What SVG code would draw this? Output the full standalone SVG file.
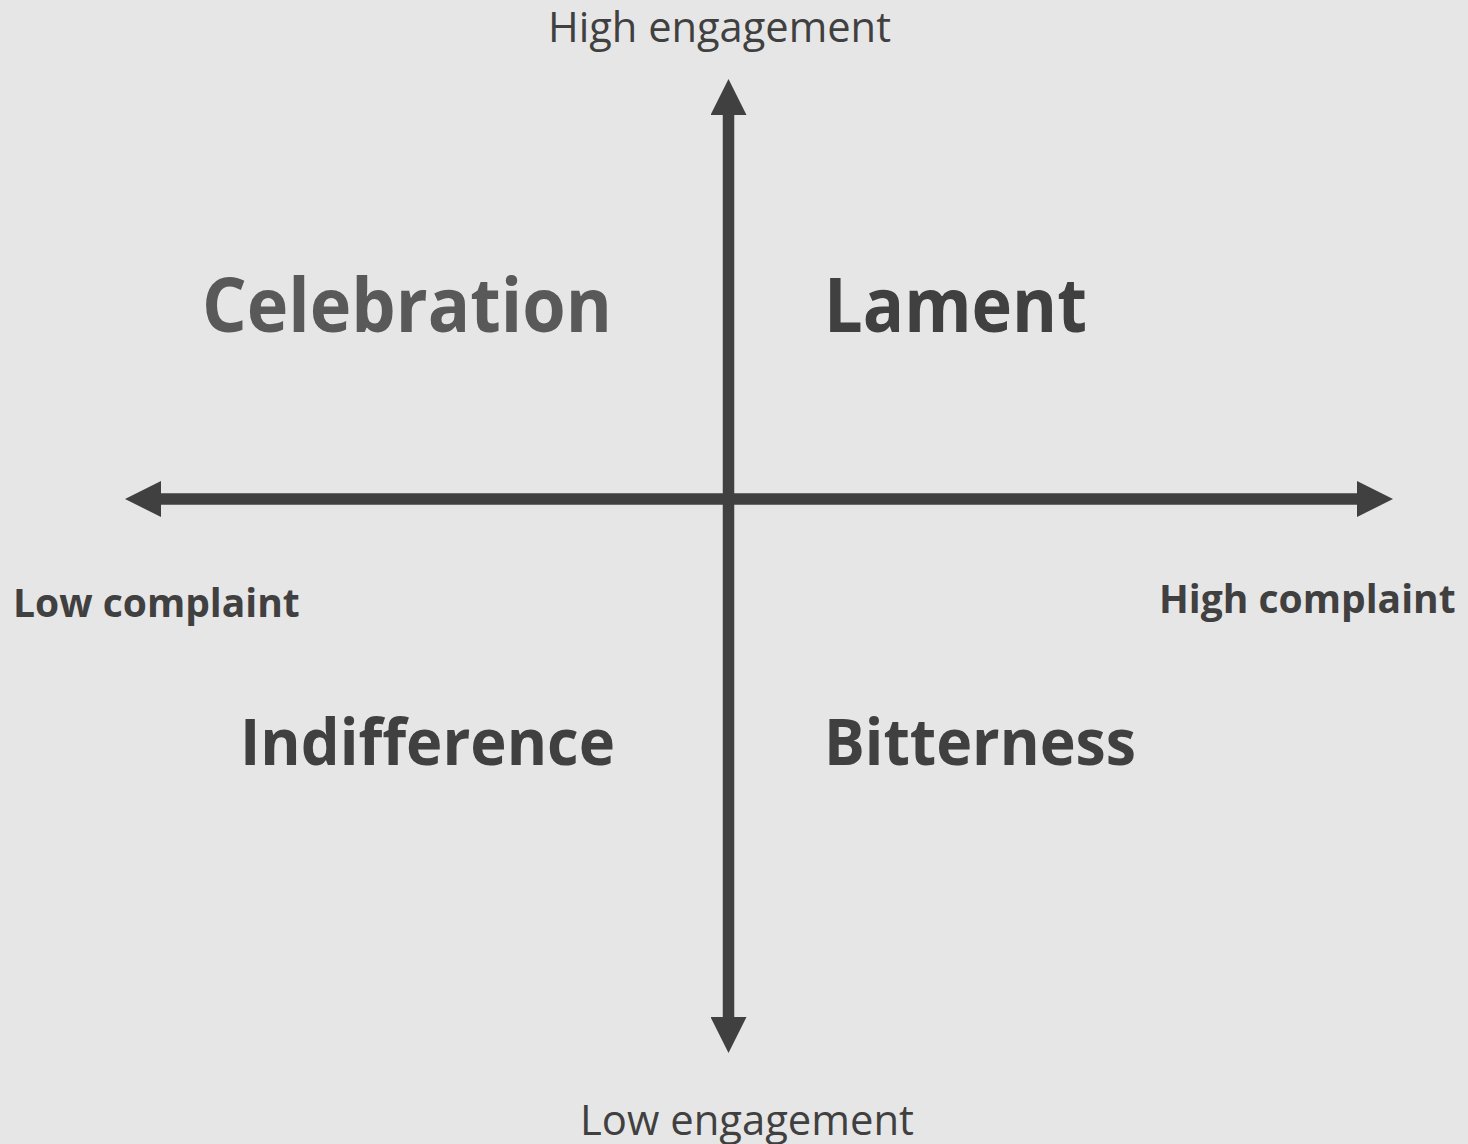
<svg xmlns="http://www.w3.org/2000/svg" width="1468" height="1144" viewBox="0 0 1468 1144">
  <style>
    .axis { stroke: #404040; stroke-width: 11.5; fill: none; }
    .lbl { font-family: "Open Sans", "Liberation Sans", sans-serif; fill: #404040; }
    .end { font-size: 42px; font-weight: 400; }
    .side { font-size: 39px; font-weight: 700; }
    .big { font-size: 76px; font-weight: 700; }
    .mid { font-size: 64px; font-weight: 700; }
  </style>
  <defs>
    <marker id="head" markerUnits="userSpaceOnUse" markerWidth="36" markerHeight="36" viewBox="0 0 36 36" refX="0" refY="18" orient="auto-start-reverse">
      <path d="M0,0 L36,18 L0,36 Z" fill="#404040"/>
    </marker>
  </defs>
  <rect width="1468" height="1144" fill="#e7e6e6"/>

  <g id="connectors">
    <line id="engagement-axis" class="axis" x1="728.5" y1="115" x2="728.5" y2="1017" marker-start="url(#head)" marker-end="url(#head)"/>
    <line id="complaint-axis" class="axis" x1="161" y1="499" x2="1357" y2="499" marker-start="url(#head)" marker-end="url(#head)"/>
  </g>

  <g id="high-engagement"><text class="lbl end" x="548" y="42" textLength="343" lengthAdjust="spacingAndGlyphs">High engagement</text></g>
  <g id="low-engagement"><text class="lbl end" x="580" y="1135" textLength="334" lengthAdjust="spacingAndGlyphs">Low engagement</text></g>
  <g id="low-complaint"><text class="lbl side" x="13" y="617">Low complaint</text></g>
  <g id="high-complaint"><text class="lbl side" x="1159" y="613">High complaint</text></g>

  <g id="celebration"><text class="lbl big" x="202" y="332" textLength="410" lengthAdjust="spacingAndGlyphs" style="fill:#595959">Celebration</text></g>
  <g id="lament"><text class="lbl big" x="824" y="332" textLength="263" lengthAdjust="spacingAndGlyphs">Lament</text></g>
  <g id="indifference"><text class="lbl mid" x="240" y="765" textLength="375" lengthAdjust="spacingAndGlyphs">Indifference</text></g>
  <g id="bitterness"><text class="lbl mid" x="824" y="765" textLength="312" lengthAdjust="spacingAndGlyphs">Bitterness</text></g>
</svg>
